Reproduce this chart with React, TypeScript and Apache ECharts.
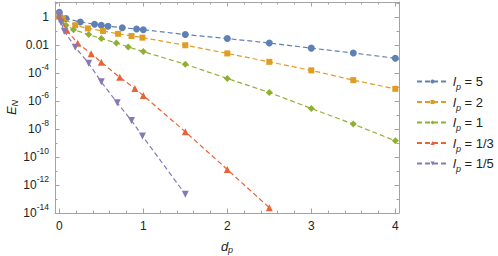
import React, { useEffect, useRef } from 'react';
import * as echarts from 'echarts';

// ---- data ----
const seriesNames = ['l_p = 5', 'l_p = 2', 'l_p = 1', 'l_p = 1/3', 'l_p = 1/5'];
const legendValues = ['5', '2', '1', '1/3', '1/5'];

const dp5 = [0, 0.08, 0.25, 0.42, 0.5, 0.58, 0.75, 0.92, 1, 1.5, 2, 2.5, 3, 3.5, 4];
const en5 = [2.3, 0.81, 0.46, 0.32, 0.27, 0.23, 0.18, 0.145, 0.13, 0.058, 0.03, 0.0145, 0.0062, 0.0028, 0.00118];

const dp2 = [0, 0.04, 0.19, 0.34, 0.52, 0.7, 0.86, 0.99, 1.5, 2, 2.5, 3, 3.5, 4];
const en2 = [1.6, 0.85, 0.27, 0.16, 0.105, 0.066, 0.046, 0.035, 0.01, 0.0026, 6.5e-4, 1.6e-4, 3.2e-5, 7.6e-6];

const dp1 = [0, 0.03, 0.08, 0.17, 0.35, 0.5, 0.68, 0.82, 1, 1.5, 2, 2.5, 3, 3.5, 4];
const en1 = [1.17, 0.51, 0.27, 0.13, 0.058, 0.03, 0.0145, 0.0076, 0.0035, 4.4e-4, 4.2e-5, 4.2e-6, 3.0e-7, 2.3e-8, 1.45e-9];

const dp13 = [0, 0.09, 0.22, 0.38, 0.5, 0.72, 0.9, 1, 1.5, 2, 2.5];
const en13 = [1.23, 0.117, 0.0138, 2.5e-3, 6.2e-4, 5.1e-5, 8.1e-6, 2.5e-6, 6.5e-9, 1.3e-11, 2.4e-14];

const dp15 = [0, 0.02, 0.06, 0.19, 0.35, 0.5, 0.69, 0.86, 0.99, 1.5];
const en15 = [1.38, 0.44, 0.1, 7.2e-3, 5.1e-4, 2.4e-5, 7.6e-7, 4.1e-8, 3.2e-9, 2.2e-13];

const allD = [dp5, dp2, dp1, dp13, dp15];
const allE = [en5, en2, en1, en13, en15];

const xTickValues = [0, 1, 2, 3, 4];
const yTickExponents = [-14, -12, -10, -8, -6, -4, -2, 0];
const yMinorExponents = [-13, -11, -9, -7, -5, -3, -1, 1];

// ---- styles ----
const colors = ['#5E81B5', '#E19C24', '#8FB032', '#EB6235', '#8778B3'];
const symbols = ['circle', 'rect', 'diamond', 'triangle', 'triangle'];
const symbolRotations = [0, 0, 0, 0, 180];
const symbolSizes = [7, 6, 7, 7, 7];

const FRAME = '#a3a3a3';
const FONT = 'Liberation Sans, Arial, sans-serif';

export default function App() {
  const ref = useRef<HTMLDivElement>(null);
  useEffect(() => {
    if (!ref.current) return;
    const chart = echarts.init(ref.current, undefined, { renderer: 'svg' });

    const xMin = -0.051;
    const xMax = 4.044;
    const yMin = -14;
    const yMax = 1.094;

    const xMinor: number[] = [];
    for (let i = 1; i < 21; i++) {
      if (i % 5 !== 0) xMinor.push(Math.round(i * 0.2 * 100) / 100);
    }

    const lineSt = { color: FRAME, width: 1 };

    const xAxisBase = {
      type: 'value',
      min: xMin,
      max: xMax,
      splitLine: { show: false },
      axisLine: { show: true, onZero: false, lineStyle: lineSt },
    };
    const yAxisBase = {
      type: 'value',
      min: yMin,
      max: yMax,
      splitLine: { show: false },
      axisLine: { show: true, onZero: false, lineStyle: lineSt },
    };

    const yFormatter = (v: number) => {
      const e = Math.round(v);
      if (e === 0) return '{b|1}';
      if (e === -2) return '{b|0.01}';
      return '{b|10}{s|' + e + '}';
    };

    const nameRich = (a: string, b: string) => ({
      [a]: { fontSize: 13, fontStyle: 'italic', lineHeight: 16, fontFamily: FONT, color: '#222' },
      [b]: { fontSize: 9, fontStyle: 'italic', lineHeight: 10, verticalAlign: 'bottom', fontFamily: FONT, color: '#222' },
    });

    const series = allD.map((dArr, k) => ({
      name: seriesNames[k],
      type: 'line',
      xAxisIndex: 0,
      yAxisIndex: 0,
      data: dArr.map((d, i) => [d, Math.log10(allE[k][i])]),
      symbol: symbols[k],
      symbolSize: symbolSizes[k],
      symbolRotate: symbolRotations[k],
      showSymbol: true,
      lineStyle: { color: colors[k], width: 1.2, type: [5, 3] },
      itemStyle: { color: colors[k] },
      z: 2 + k,
    }));

    chart.setOption({
      animation: false,
      grid: { left: 55, right: 99, top: 2, bottom: 43, containLabel: false, outerBoundsMode: 'none' },
      legend: {
        orient: 'vertical',
        left: 411,
        top: 70,
        itemWidth: 31,
        itemHeight: 5,
        itemGap: 4,
        data: seriesNames,
        formatter: (name: string) => {
          const idx = seriesNames.indexOf(name);
          return '{i|l}{p|p}{t| = ' + legendValues[idx] + '}';
        },
        textStyle: {
          color: '#222',
          fontFamily: FONT,
          rich: {
            i: { fontSize: 13, fontStyle: 'italic', lineHeight: 20, fontFamily: FONT, color: '#222' },
            p: { fontSize: 9, fontStyle: 'italic', lineHeight: 14, verticalAlign: 'bottom', fontFamily: FONT, color: '#222' },
            t: { fontSize: 13, lineHeight: 20, fontFamily: FONT, color: '#222' },
          },
        },
      },
      xAxis: [
        {
          ...xAxisBase,
          position: 'bottom',
          name: '{d|d}{p|p}',
          nameLocation: 'middle',
          nameGap: 25,
          nameMoveOverlap: false,
          nameTextStyle: { rich: nameRich('d', 'p') },
          axisTick: { show: true, inside: true, length: 4.5, customValues: xTickValues, lineStyle: lineSt },
          axisLabel: {
            show: true,
            customValues: xTickValues,
            color: '#222',
            fontSize: 12,
            fontFamily: FONT,
            margin: 7,
          },
        },
        {
          ...xAxisBase,
          position: 'bottom',
          axisLine: { show: false, onZero: false },
          axisTick: { show: true, inside: true, length: 2.5, customValues: xMinor, lineStyle: lineSt },
          axisLabel: { show: false },
        },
        {
          ...xAxisBase,
          position: 'top',
          axisTick: { show: true, inside: true, length: 4.5, customValues: xTickValues, lineStyle: lineSt },
          axisLabel: { show: false },
        },
        {
          ...xAxisBase,
          position: 'top',
          axisLine: { show: false, onZero: false },
          axisTick: { show: true, inside: true, length: 2.5, customValues: xMinor, lineStyle: lineSt },
          axisLabel: { show: false },
        },
      ],
      yAxis: [
        {
          ...yAxisBase,
          position: 'left',
          name: '{e|E}{n|N}',
          nameLocation: 'middle',
          nameRotate: 90,
          nameGap: 36,
          nameMoveOverlap: false,
          nameTextStyle: { rich: nameRich('e', 'n') },
          axisTick: { show: true, inside: true, length: 4.5, customValues: yTickExponents, lineStyle: lineSt },
          axisLabel: {
            show: true,
            customValues: yTickExponents,
            formatter: yFormatter,
            margin: 6,
            color: '#222',
            fontFamily: FONT,
            rich: {
              b: { fontSize: 12, lineHeight: 22, fontFamily: FONT, color: '#222' },
              s: { fontSize: 8.5, lineHeight: 10, verticalAlign: 'top', fontFamily: FONT, color: '#222' },
            },
          },
        },
        {
          ...yAxisBase,
          position: 'left',
          axisLine: { show: false, onZero: false },
          axisTick: { show: true, inside: true, length: 2.5, customValues: yMinorExponents, lineStyle: lineSt },
          axisLabel: { show: false },
        },
        {
          ...yAxisBase,
          position: 'right',
          axisTick: { show: true, inside: true, length: 4.5, customValues: yTickExponents, lineStyle: lineSt },
          axisLabel: { show: false },
        },
        {
          ...yAxisBase,
          position: 'right',
          axisLine: { show: false, onZero: false },
          axisTick: { show: true, inside: true, length: 2.5, customValues: yMinorExponents, lineStyle: lineSt },
          axisLabel: { show: false },
        },
      ],
      series,
    });

    return () => {
      chart.dispose();
    };
  }, []);

  return (
    <div
      ref={ref}
      style={{ position: 'fixed', left: 0, top: 0, width: 498, height: 256, background: '#fff' }}
    />
  );
}
